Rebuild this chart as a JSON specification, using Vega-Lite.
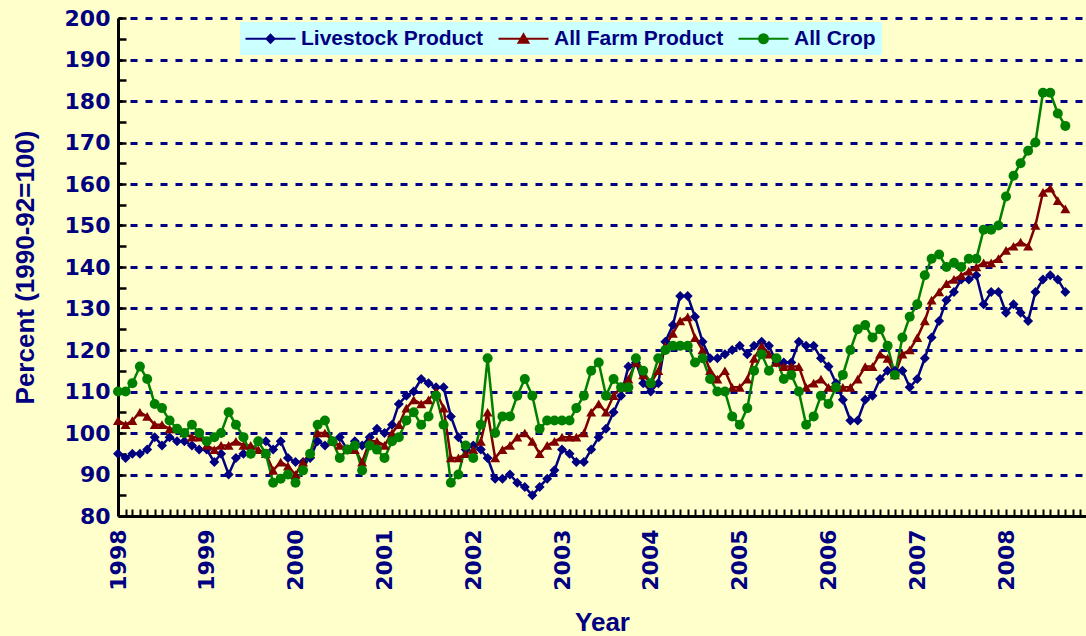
{
"$schema": "https://vega.github.io/schema/vega-lite/v6.json",
"width": 968, "height": 498,
"autosize": {"type": "none"},
"padding": {"left": 118, "top": 18, "right": 0, "bottom": 120},
"background": "#FFFFCC",
"config": {"view": {"stroke": null}},
"data": {"values": [
{"date":"1998-01","series":"Livestock Product","value":95},{"date":"1998-02","series":"Livestock Product","value":94},{"date":"1998-03","series":"Livestock Product","value":95},{"date":"1998-04","series":"Livestock Product","value":95},{"date":"1998-05","series":"Livestock Product","value":96},{"date":"1998-06","series":"Livestock Product","value":99},{"date":"1998-07","series":"Livestock Product","value":97},{"date":"1998-08","series":"Livestock Product","value":99},{"date":"1998-09","series":"Livestock Product","value":98},{"date":"1998-10","series":"Livestock Product","value":98},{"date":"1998-11","series":"Livestock Product","value":97},{"date":"1998-12","series":"Livestock Product","value":96},
{"date":"1999-01","series":"Livestock Product","value":96},{"date":"1999-02","series":"Livestock Product","value":93},{"date":"1999-03","series":"Livestock Product","value":95},{"date":"1999-04","series":"Livestock Product","value":90},{"date":"1999-05","series":"Livestock Product","value":94},{"date":"1999-06","series":"Livestock Product","value":95},{"date":"1999-07","series":"Livestock Product","value":95},{"date":"1999-08","series":"Livestock Product","value":98},{"date":"1999-09","series":"Livestock Product","value":98},{"date":"1999-10","series":"Livestock Product","value":96},{"date":"1999-11","series":"Livestock Product","value":98},{"date":"1999-12","series":"Livestock Product","value":94},
{"date":"2000-01","series":"Livestock Product","value":93},{"date":"2000-02","series":"Livestock Product","value":93},{"date":"2000-03","series":"Livestock Product","value":94},{"date":"2000-04","series":"Livestock Product","value":98},{"date":"2000-05","series":"Livestock Product","value":97},{"date":"2000-06","series":"Livestock Product","value":98},{"date":"2000-07","series":"Livestock Product","value":99},{"date":"2000-08","series":"Livestock Product","value":96},{"date":"2000-09","series":"Livestock Product","value":98},{"date":"2000-10","series":"Livestock Product","value":97},{"date":"2000-11","series":"Livestock Product","value":99},{"date":"2000-12","series":"Livestock Product","value":101},
{"date":"2001-01","series":"Livestock Product","value":100},{"date":"2001-02","series":"Livestock Product","value":102},{"date":"2001-03","series":"Livestock Product","value":107},{"date":"2001-04","series":"Livestock Product","value":109},{"date":"2001-05","series":"Livestock Product","value":110},{"date":"2001-06","series":"Livestock Product","value":113},{"date":"2001-07","series":"Livestock Product","value":112},{"date":"2001-08","series":"Livestock Product","value":111},{"date":"2001-09","series":"Livestock Product","value":111},{"date":"2001-10","series":"Livestock Product","value":104},{"date":"2001-11","series":"Livestock Product","value":99},{"date":"2001-12","series":"Livestock Product","value":96},
{"date":"2002-01","series":"Livestock Product","value":97},{"date":"2002-02","series":"Livestock Product","value":96},{"date":"2002-03","series":"Livestock Product","value":94},{"date":"2002-04","series":"Livestock Product","value":89},{"date":"2002-05","series":"Livestock Product","value":89},{"date":"2002-06","series":"Livestock Product","value":90},{"date":"2002-07","series":"Livestock Product","value":88},{"date":"2002-08","series":"Livestock Product","value":87},{"date":"2002-09","series":"Livestock Product","value":85},{"date":"2002-10","series":"Livestock Product","value":87},{"date":"2002-11","series":"Livestock Product","value":89},{"date":"2002-12","series":"Livestock Product","value":91},
{"date":"2003-01","series":"Livestock Product","value":96},{"date":"2003-02","series":"Livestock Product","value":95},{"date":"2003-03","series":"Livestock Product","value":93},{"date":"2003-04","series":"Livestock Product","value":93},{"date":"2003-05","series":"Livestock Product","value":96},{"date":"2003-06","series":"Livestock Product","value":99},{"date":"2003-07","series":"Livestock Product","value":101},{"date":"2003-08","series":"Livestock Product","value":105},{"date":"2003-09","series":"Livestock Product","value":109},{"date":"2003-10","series":"Livestock Product","value":116},{"date":"2003-11","series":"Livestock Product","value":117},{"date":"2003-12","series":"Livestock Product","value":112},
{"date":"2004-01","series":"Livestock Product","value":110},{"date":"2004-02","series":"Livestock Product","value":112},{"date":"2004-03","series":"Livestock Product","value":122},{"date":"2004-04","series":"Livestock Product","value":126},{"date":"2004-05","series":"Livestock Product","value":133},{"date":"2004-06","series":"Livestock Product","value":133},{"date":"2004-07","series":"Livestock Product","value":128},{"date":"2004-08","series":"Livestock Product","value":122},{"date":"2004-09","series":"Livestock Product","value":118},{"date":"2004-10","series":"Livestock Product","value":118},{"date":"2004-11","series":"Livestock Product","value":119},{"date":"2004-12","series":"Livestock Product","value":120},
{"date":"2005-01","series":"Livestock Product","value":121},{"date":"2005-02","series":"Livestock Product","value":119},{"date":"2005-03","series":"Livestock Product","value":121},{"date":"2005-04","series":"Livestock Product","value":122},{"date":"2005-05","series":"Livestock Product","value":121},{"date":"2005-06","series":"Livestock Product","value":117},{"date":"2005-07","series":"Livestock Product","value":117},{"date":"2005-08","series":"Livestock Product","value":117},{"date":"2005-09","series":"Livestock Product","value":122},{"date":"2005-10","series":"Livestock Product","value":121},{"date":"2005-11","series":"Livestock Product","value":121},{"date":"2005-12","series":"Livestock Product","value":118},
{"date":"2006-01","series":"Livestock Product","value":116},{"date":"2006-02","series":"Livestock Product","value":112},{"date":"2006-03","series":"Livestock Product","value":108},{"date":"2006-04","series":"Livestock Product","value":103},{"date":"2006-05","series":"Livestock Product","value":103},{"date":"2006-06","series":"Livestock Product","value":108},{"date":"2006-07","series":"Livestock Product","value":109},{"date":"2006-08","series":"Livestock Product","value":113},{"date":"2006-09","series":"Livestock Product","value":115},{"date":"2006-10","series":"Livestock Product","value":115},{"date":"2006-11","series":"Livestock Product","value":115},{"date":"2006-12","series":"Livestock Product","value":111},
{"date":"2007-01","series":"Livestock Product","value":113},{"date":"2007-02","series":"Livestock Product","value":118},{"date":"2007-03","series":"Livestock Product","value":123},{"date":"2007-04","series":"Livestock Product","value":127},{"date":"2007-05","series":"Livestock Product","value":132},{"date":"2007-06","series":"Livestock Product","value":134},{"date":"2007-07","series":"Livestock Product","value":137},{"date":"2007-08","series":"Livestock Product","value":137},{"date":"2007-09","series":"Livestock Product","value":138},{"date":"2007-10","series":"Livestock Product","value":131},{"date":"2007-11","series":"Livestock Product","value":134},{"date":"2007-12","series":"Livestock Product","value":134},
{"date":"2008-01","series":"Livestock Product","value":129},{"date":"2008-02","series":"Livestock Product","value":131},{"date":"2008-03","series":"Livestock Product","value":129},{"date":"2008-04","series":"Livestock Product","value":127},{"date":"2008-05","series":"Livestock Product","value":134},{"date":"2008-06","series":"Livestock Product","value":137},{"date":"2008-07","series":"Livestock Product","value":138},{"date":"2008-08","series":"Livestock Product","value":137},{"date":"2008-09","series":"Livestock Product","value":134},
{"date":"1998-01","series":"All Farm Product","value":103},{"date":"1998-02","series":"All Farm Product","value":102},{"date":"1998-03","series":"All Farm Product","value":103},{"date":"1998-04","series":"All Farm Product","value":105},{"date":"1998-05","series":"All Farm Product","value":104},{"date":"1998-06","series":"All Farm Product","value":102},{"date":"1998-07","series":"All Farm Product","value":102},{"date":"1998-08","series":"All Farm Product","value":101},{"date":"1998-09","series":"All Farm Product","value":101},{"date":"1998-10","series":"All Farm Product","value":100},{"date":"1998-11","series":"All Farm Product","value":99},{"date":"1998-12","series":"All Farm Product","value":99},
{"date":"1999-01","series":"All Farm Product","value":97},{"date":"1999-02","series":"All Farm Product","value":96},{"date":"1999-03","series":"All Farm Product","value":97},{"date":"1999-04","series":"All Farm Product","value":97},{"date":"1999-05","series":"All Farm Product","value":98},{"date":"1999-06","series":"All Farm Product","value":97},{"date":"1999-07","series":"All Farm Product","value":97},{"date":"1999-08","series":"All Farm Product","value":96},{"date":"1999-09","series":"All Farm Product","value":95},{"date":"1999-10","series":"All Farm Product","value":91},{"date":"1999-11","series":"All Farm Product","value":93},{"date":"1999-12","series":"All Farm Product","value":92},
{"date":"2000-01","series":"All Farm Product","value":90},{"date":"2000-02","series":"All Farm Product","value":93},{"date":"2000-03","series":"All Farm Product","value":95},{"date":"2000-04","series":"All Farm Product","value":100},{"date":"2000-05","series":"All Farm Product","value":100},{"date":"2000-06","series":"All Farm Product","value":98},{"date":"2000-07","series":"All Farm Product","value":97},{"date":"2000-08","series":"All Farm Product","value":96},{"date":"2000-09","series":"All Farm Product","value":96},{"date":"2000-10","series":"All Farm Product","value":93},{"date":"2000-11","series":"All Farm Product","value":98},{"date":"2000-12","series":"All Farm Product","value":98},
{"date":"2001-01","series":"All Farm Product","value":97},{"date":"2001-02","series":"All Farm Product","value":100},{"date":"2001-03","series":"All Farm Product","value":102},{"date":"2001-04","series":"All Farm Product","value":106},{"date":"2001-05","series":"All Farm Product","value":108},{"date":"2001-06","series":"All Farm Product","value":107},{"date":"2001-07","series":"All Farm Product","value":108},{"date":"2001-08","series":"All Farm Product","value":110},{"date":"2001-09","series":"All Farm Product","value":106},{"date":"2001-10","series":"All Farm Product","value":94},{"date":"2001-11","series":"All Farm Product","value":94},{"date":"2001-12","series":"All Farm Product","value":95},
{"date":"2002-01","series":"All Farm Product","value":96},{"date":"2002-02","series":"All Farm Product","value":98},{"date":"2002-03","series":"All Farm Product","value":105},{"date":"2002-04","series":"All Farm Product","value":94},{"date":"2002-05","series":"All Farm Product","value":96},{"date":"2002-06","series":"All Farm Product","value":97},{"date":"2002-07","series":"All Farm Product","value":99},{"date":"2002-08","series":"All Farm Product","value":100},{"date":"2002-09","series":"All Farm Product","value":98},{"date":"2002-10","series":"All Farm Product","value":95},{"date":"2002-11","series":"All Farm Product","value":97},{"date":"2002-12","series":"All Farm Product","value":98},
{"date":"2003-01","series":"All Farm Product","value":99},{"date":"2003-02","series":"All Farm Product","value":99},{"date":"2003-03","series":"All Farm Product","value":99},{"date":"2003-04","series":"All Farm Product","value":100},{"date":"2003-05","series":"All Farm Product","value":105},{"date":"2003-06","series":"All Farm Product","value":107},{"date":"2003-07","series":"All Farm Product","value":105},{"date":"2003-08","series":"All Farm Product","value":109},{"date":"2003-09","series":"All Farm Product","value":111},{"date":"2003-10","series":"All Farm Product","value":113},{"date":"2003-11","series":"All Farm Product","value":117},{"date":"2003-12","series":"All Farm Product","value":114},
{"date":"2004-01","series":"All Farm Product","value":112},{"date":"2004-02","series":"All Farm Product","value":115},{"date":"2004-03","series":"All Farm Product","value":121},{"date":"2004-04","series":"All Farm Product","value":124},{"date":"2004-05","series":"All Farm Product","value":127},{"date":"2004-06","series":"All Farm Product","value":128},{"date":"2004-07","series":"All Farm Product","value":123},{"date":"2004-08","series":"All Farm Product","value":120},{"date":"2004-09","series":"All Farm Product","value":115},{"date":"2004-10","series":"All Farm Product","value":113},{"date":"2004-11","series":"All Farm Product","value":115},{"date":"2004-12","series":"All Farm Product","value":111},
{"date":"2005-01","series":"All Farm Product","value":111},{"date":"2005-02","series":"All Farm Product","value":113},{"date":"2005-03","series":"All Farm Product","value":118},{"date":"2005-04","series":"All Farm Product","value":121},{"date":"2005-05","series":"All Farm Product","value":119},{"date":"2005-06","series":"All Farm Product","value":117},{"date":"2005-07","series":"All Farm Product","value":116},{"date":"2005-08","series":"All Farm Product","value":116},{"date":"2005-09","series":"All Farm Product","value":116},{"date":"2005-10","series":"All Farm Product","value":111},{"date":"2005-11","series":"All Farm Product","value":112},{"date":"2005-12","series":"All Farm Product","value":113},
{"date":"2006-01","series":"All Farm Product","value":111},{"date":"2006-02","series":"All Farm Product","value":111},{"date":"2006-03","series":"All Farm Product","value":111},{"date":"2006-04","series":"All Farm Product","value":111},{"date":"2006-05","series":"All Farm Product","value":113},{"date":"2006-06","series":"All Farm Product","value":116},{"date":"2006-07","series":"All Farm Product","value":116},{"date":"2006-08","series":"All Farm Product","value":119},{"date":"2006-09","series":"All Farm Product","value":118},{"date":"2006-10","series":"All Farm Product","value":114},{"date":"2006-11","series":"All Farm Product","value":119},{"date":"2006-12","series":"All Farm Product","value":120},
{"date":"2007-01","series":"All Farm Product","value":123},{"date":"2007-02","series":"All Farm Product","value":127},{"date":"2007-03","series":"All Farm Product","value":132},{"date":"2007-04","series":"All Farm Product","value":134},{"date":"2007-05","series":"All Farm Product","value":136},{"date":"2007-06","series":"All Farm Product","value":137},{"date":"2007-07","series":"All Farm Product","value":138},{"date":"2007-08","series":"All Farm Product","value":139},{"date":"2007-09","series":"All Farm Product","value":140},{"date":"2007-10","series":"All Farm Product","value":141},{"date":"2007-11","series":"All Farm Product","value":141},{"date":"2007-12","series":"All Farm Product","value":142},
{"date":"2008-01","series":"All Farm Product","value":144},{"date":"2008-02","series":"All Farm Product","value":145},{"date":"2008-03","series":"All Farm Product","value":146},{"date":"2008-04","series":"All Farm Product","value":145},{"date":"2008-05","series":"All Farm Product","value":150},{"date":"2008-06","series":"All Farm Product","value":158},{"date":"2008-07","series":"All Farm Product","value":159},{"date":"2008-08","series":"All Farm Product","value":156},{"date":"2008-09","series":"All Farm Product","value":154},
{"date":"1998-01","series":"All Crop","value":110},{"date":"1998-02","series":"All Crop","value":110},{"date":"1998-03","series":"All Crop","value":112},{"date":"1998-04","series":"All Crop","value":116},{"date":"1998-05","series":"All Crop","value":113},{"date":"1998-06","series":"All Crop","value":107},{"date":"1998-07","series":"All Crop","value":106},{"date":"1998-08","series":"All Crop","value":103},{"date":"1998-09","series":"All Crop","value":101},{"date":"1998-10","series":"All Crop","value":100},{"date":"1998-11","series":"All Crop","value":102},{"date":"1998-12","series":"All Crop","value":100},
{"date":"1999-01","series":"All Crop","value":98},{"date":"1999-02","series":"All Crop","value":99},{"date":"1999-03","series":"All Crop","value":100},{"date":"1999-04","series":"All Crop","value":105},{"date":"1999-05","series":"All Crop","value":102},{"date":"1999-06","series":"All Crop","value":99},{"date":"1999-07","series":"All Crop","value":95},{"date":"1999-08","series":"All Crop","value":98},{"date":"1999-09","series":"All Crop","value":95},{"date":"1999-10","series":"All Crop","value":88},{"date":"1999-11","series":"All Crop","value":89},{"date":"1999-12","series":"All Crop","value":90},
{"date":"2000-01","series":"All Crop","value":88},{"date":"2000-02","series":"All Crop","value":91},{"date":"2000-03","series":"All Crop","value":95},{"date":"2000-04","series":"All Crop","value":102},{"date":"2000-05","series":"All Crop","value":103},{"date":"2000-06","series":"All Crop","value":98},{"date":"2000-07","series":"All Crop","value":94},{"date":"2000-08","series":"All Crop","value":96},{"date":"2000-09","series":"All Crop","value":97},{"date":"2000-10","series":"All Crop","value":91},{"date":"2000-11","series":"All Crop","value":97},{"date":"2000-12","series":"All Crop","value":96},
{"date":"2001-01","series":"All Crop","value":94},{"date":"2001-02","series":"All Crop","value":98},{"date":"2001-03","series":"All Crop","value":99},{"date":"2001-04","series":"All Crop","value":103},{"date":"2001-05","series":"All Crop","value":105},{"date":"2001-06","series":"All Crop","value":102},{"date":"2001-07","series":"All Crop","value":104},{"date":"2001-08","series":"All Crop","value":109},{"date":"2001-09","series":"All Crop","value":102},{"date":"2001-10","series":"All Crop","value":88},{"date":"2001-11","series":"All Crop","value":90},{"date":"2001-12","series":"All Crop","value":97},
{"date":"2002-01","series":"All Crop","value":94},{"date":"2002-02","series":"All Crop","value":102},{"date":"2002-03","series":"All Crop","value":118},{"date":"2002-04","series":"All Crop","value":100},{"date":"2002-05","series":"All Crop","value":104},{"date":"2002-06","series":"All Crop","value":104},{"date":"2002-07","series":"All Crop","value":109},{"date":"2002-08","series":"All Crop","value":113},{"date":"2002-09","series":"All Crop","value":109},{"date":"2002-10","series":"All Crop","value":101},{"date":"2002-11","series":"All Crop","value":103},{"date":"2002-12","series":"All Crop","value":103},
{"date":"2003-01","series":"All Crop","value":103},{"date":"2003-02","series":"All Crop","value":103},{"date":"2003-03","series":"All Crop","value":106},{"date":"2003-04","series":"All Crop","value":109},{"date":"2003-05","series":"All Crop","value":115},{"date":"2003-06","series":"All Crop","value":117},{"date":"2003-07","series":"All Crop","value":109},{"date":"2003-08","series":"All Crop","value":113},{"date":"2003-09","series":"All Crop","value":111},{"date":"2003-10","series":"All Crop","value":111},{"date":"2003-11","series":"All Crop","value":118},{"date":"2003-12","series":"All Crop","value":115},
{"date":"2004-01","series":"All Crop","value":112},{"date":"2004-02","series":"All Crop","value":118},{"date":"2004-03","series":"All Crop","value":120},{"date":"2004-04","series":"All Crop","value":121},{"date":"2004-05","series":"All Crop","value":121},{"date":"2004-06","series":"All Crop","value":121},{"date":"2004-07","series":"All Crop","value":117},{"date":"2004-08","series":"All Crop","value":118},{"date":"2004-09","series":"All Crop","value":113},{"date":"2004-10","series":"All Crop","value":110},{"date":"2004-11","series":"All Crop","value":110},{"date":"2004-12","series":"All Crop","value":104},
{"date":"2005-01","series":"All Crop","value":102},{"date":"2005-02","series":"All Crop","value":106},{"date":"2005-03","series":"All Crop","value":115},{"date":"2005-04","series":"All Crop","value":119},{"date":"2005-05","series":"All Crop","value":115},{"date":"2005-06","series":"All Crop","value":118},{"date":"2005-07","series":"All Crop","value":113},{"date":"2005-08","series":"All Crop","value":114},{"date":"2005-09","series":"All Crop","value":110},{"date":"2005-10","series":"All Crop","value":102},{"date":"2005-11","series":"All Crop","value":104},{"date":"2005-12","series":"All Crop","value":109},
{"date":"2006-01","series":"All Crop","value":107},{"date":"2006-02","series":"All Crop","value":111},{"date":"2006-03","series":"All Crop","value":114},{"date":"2006-04","series":"All Crop","value":120},{"date":"2006-05","series":"All Crop","value":125},{"date":"2006-06","series":"All Crop","value":126},{"date":"2006-07","series":"All Crop","value":123},{"date":"2006-08","series":"All Crop","value":125},{"date":"2006-09","series":"All Crop","value":121},{"date":"2006-10","series":"All Crop","value":114},{"date":"2006-11","series":"All Crop","value":123},{"date":"2006-12","series":"All Crop","value":128},
{"date":"2007-01","series":"All Crop","value":131},{"date":"2007-02","series":"All Crop","value":138},{"date":"2007-03","series":"All Crop","value":142},{"date":"2007-04","series":"All Crop","value":143},{"date":"2007-05","series":"All Crop","value":140},{"date":"2007-06","series":"All Crop","value":141},{"date":"2007-07","series":"All Crop","value":140},{"date":"2007-08","series":"All Crop","value":142},{"date":"2007-09","series":"All Crop","value":142},{"date":"2007-10","series":"All Crop","value":149},{"date":"2007-11","series":"All Crop","value":149},{"date":"2007-12","series":"All Crop","value":150},
{"date":"2008-01","series":"All Crop","value":157},{"date":"2008-02","series":"All Crop","value":162},{"date":"2008-03","series":"All Crop","value":165},{"date":"2008-04","series":"All Crop","value":168},{"date":"2008-05","series":"All Crop","value":170},{"date":"2008-06","series":"All Crop","value":182},{"date":"2008-07","series":"All Crop","value":182},{"date":"2008-08","series":"All Crop","value":177},{"date":"2008-09","series":"All Crop","value":174}
]},
"encoding": {
  "x": {"field": "date", "type": "temporal",
    "scale": {"type": "utc", "domain": [{"year": 1998, "month": 1, "date": 1, "utc": true}, {"year": 2008, "month": 11, "date": 25, "utc": true}]},
    "axis": {"title": "Year", "titleFont": "Liberation Sans", "titleFontSize": 26, "titleFontWeight": "bold", "titleColor": "#000080",
      "titleX": 484, "titleY": 106, "titleAlign": "center", "titleBaseline": "middle", "titleAngle": 0,
      "tickCount": {"interval": "month", "step": 1},
      "labelExpr": "utcmonth(datum.value) == 0 ? utcFormat(datum.value, '%Y') : ''",
      "labelAngle": 270, "labelAlign": "right", "labelBaseline": "middle", "labelPadding": 20,
      "labelFont": "DejaVu Sans", "labelFontSize": 22, "labelFontWeight": "bold", "labelColor": "#000080",
      "labelOverlap": false, "labelFlush": false, "labelBound": false,
      "grid": false, "domainColor": "black", "domainWidth": 3, "tickColor": "black", "tickWidth": 2, "tickSize": -7}},
  "y": {"field": "value", "type": "quantitative",
    "scale": {"domain": [80, 200], "nice": false, "zero": false},
    "axis": {"title": "Percent (1990-92=100)", "titleFont": "Liberation Sans", "titleFontSize": 26, "titleFontWeight": "bold", "titleColor": "#000080",
      "titleAngle": 270, "titleX": -93, "titleY": 249, "titleAlign": "center", "titleBaseline": "middle",
      "values": [80,85,90,95,100,105,110,115,120,125,130,135,140,145,150,155,160,165,170,175,180,185,190,195,200],
      "labelExpr": "datum.value % 10 == 0 ? datum.label : ''",
      "labelFont": "DejaVu Sans", "labelFontSize": 22, "labelFontWeight": "bold", "labelColor": "#000080", "labelPadding": 16, "labelOverlap": false, "labelFlush": false,
      "grid": true, "gridColor": "#000080", "gridDash": [7, 8], "gridDashOffset": 3, "gridWidth": 3,
      "gridOpacity": {"condition": {"test": "datum.value % 10 != 0 || datum.value == 80", "value": 0}, "value": 1},
      "domainColor": "black", "domainWidth": 3, "tickColor": "black", "tickWidth": 2.5, "tickSize": -8}}
},
"layer": [
  {"mark": {"type": "line", "strokeWidth": 2.5},
   "encoding": {"color": {"field": "series", "type": "nominal",
     "scale": {"domain": ["Livestock Product", "All Farm Product", "All Crop"], "range": ["#000080", "#800000", "#008000"]}, "legend": null}}},
  {"transform": [{"filter": "datum.series == 'Livestock Product'"}],
   "mark": {"type": "point", "filled": true, "size": 100, "opacity": 1, "shape": "diamond"},
   "encoding": {"color": {"field": "series", "type": "nominal", "legend": null}}},
  {"transform": [{"filter": "datum.series == 'All Farm Product'"}],
   "mark": {"type": "point", "filled": true, "size": 100, "opacity": 1, "shape": "triangle-up"},
   "encoding": {"color": {"field": "series", "type": "nominal", "legend": null}}},
  {"transform": [{"filter": "datum.series == 'All Crop'"}],
   "mark": {"type": "point", "filled": true, "size": 100, "opacity": 1, "shape": "circle"},
   "encoding": {"color": {"field": "series", "type": "nominal", "legend": null}}},
  {"transform": [{"filter": "false"}],
   "mark": {"type": "point", "filled": true, "size": 100},
   "encoding": {
     "color": {"field": "series", "type": "nominal", "legend": null},
     "shape": {"field": "series", "type": "nominal",
       "scale": {"domain": ["Livestock Product", "All Farm Product", "All Crop"],
         "range": ["M-5,0H5M0,-0.8L0.8,0L0,0.8L-0.8,0Z", "M-5,0H5M0,-0.9L1,0.8H-1Z", "M-5,0H5M-0.9,0A0.9,0.9,0,1,1,0.9,0A0.9,0.9,0,1,1,-0.9,0Z"]},
       "legend": {"title": null, "orient": "none", "legendX": 122, "legendY": 4, "direction": "horizontal", "fillColor": "#CCFFFF", "padding": 6, "columnPadding": 10,
         "symbolSize": 100, "symbolStrokeWidth": 2, "symbolOffset": 14, "labelOffset": 20,
         "symbolFillColor": {"expr": "scale('color', datum.value)"},
         "symbolStrokeColor": {"expr": "scale('color', datum.value)"},
         "symbolOpacity": 1,
         "labelFont": "Liberation Sans", "labelFontSize": 21, "labelFontWeight": "bold", "labelColor": "#000080", "labelLimit": 0}}}}
],
"resolve": {"scale": {"shape": "independent"}}
}
